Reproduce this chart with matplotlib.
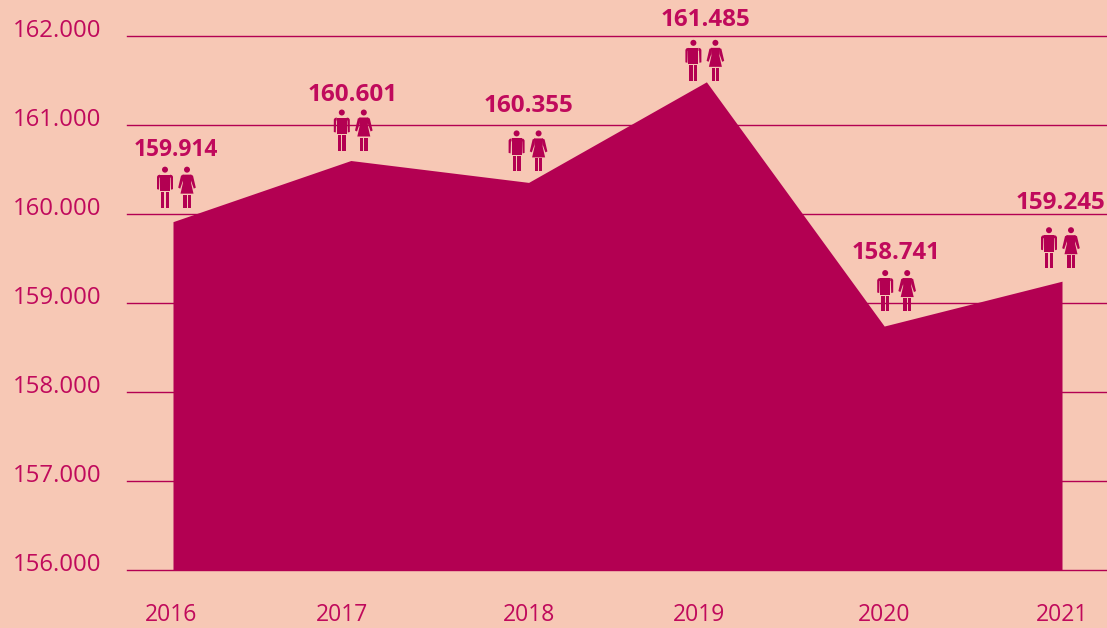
import matplotlib
matplotlib.use('Agg')
import matplotlib.pyplot as plt
from matplotlib.patches import Circle, FancyBboxPatch, Polygon, Rectangle
from matplotlib.transforms import Affine2D, ScaledTranslation

plt.rcParams['font.family'] = ['Open Sans', 'DejaVu Sans']

years = [2016, 2017, 2018, 2019, 2020, 2021]
values = [159914, 160601, 160355, 161485, 158741, 159245]
y_ticks = [156000, 157000, 158000, 159000, 160000, 161000, 162000]

BG = '#f7c8b5'
FILL = '#b30052'
TEXT = '#c00a5c'

# pixel offsets from each data point: icon pair x/y, value label x/height, year label x
icon_dx = [3, 2, -1, -2, 12, -2]
icon_dy = [14, 10, 11, 1, 15, 13]
label_dx = [3, 2, 0, -1, 12, -2]
label_up = [58, 56, 65, 61, 58, 65]
label_size = [16.4, 17.5, 17.5, 17.4, 17.2, 17.5]
year_dx = [-2, -9, 0, -7, 0, 0]


def fmt(v):
    return f'{v:,}'.replace(',', '.')


def draw_man(ax, trans):
    parts = [
        Circle((0, 38), 3.0),
        Polygon([(-5, 33), (5, 33), (5, 16.5), (-5, 16.5)]),
        Polygon([(-5, 33), (-7, 32.5), (-8, 31), (-8, 18.5), (-6, 18), (-5.6, 30), (-5, 30)]),
        Polygon([(5, 33), (7, 32.5), (8, 31), (8, 18.5), (6, 18), (5.6, 30), (5, 30)]),
        Rectangle((-4, 0), 3.4, 15.5),
        Rectangle((0.6, 0), 3.4, 15.5),
    ]
    for p in parts:
        p.set(transform=trans, facecolor=FILL, edgecolor='none', clip_on=False, zorder=3)
        ax.add_patch(p)


def draw_woman(ax, trans):
    parts = [
        Circle((0, 38), 3.0),
        Polygon([(-4.5, 33), (4.5, 33), (4, 25), (6.5, 14), (-6.5, 14), (-4, 25)]),
        Polygon([(-3.5, 33), (-6, 32), (-8.8, 20), (-6.8, 19), (-4, 27)]),
        Polygon([(3.5, 33), (6, 32), (8.8, 20), (6.8, 19), (4, 27)]),
        Rectangle((-3.8, 0), 3.3, 13),
        Rectangle((0.5, 0), 3.3, 13),
    ]
    for p in parts:
        p.set(transform=trans, facecolor=FILL, edgecolor='none', clip_on=False, zorder=3)
        ax.add_patch(p)


fig = plt.figure(figsize=(11.07, 6.28), dpi=100, facecolor=BG)
ax = fig.add_axes([127 / 1107, 1 - 570 / 628, 980 / 1107, 534 / 628], facecolor=BG)

ax.set_xlim(2016 - 46 / 177.8, 2016 + 934 / 177.8)
ax.set_ylim(156000, 162000)

ax.fill_between(years, values, 156000, color=FILL, linewidth=0, zorder=2)

ax.set_yticks(y_ticks, [fmt(v) for v in y_ticks])
ax.set_xticks(years, [str(y) for y in years])
ax.grid(axis='y', color=FILL, linewidth=1.0)
ax.set_axisbelow(True)
for line in ax.get_ygridlines():
    line.set_clip_on(False)
ax.tick_params(axis='both', length=0, labelcolor=TEXT)
ax.tick_params(axis='y', pad=18.5, labelsize=17.3)
ax.tick_params(axis='x', pad=24, labelsize=16.5)
for spine in ax.spines.values():
    spine.set_visible(False)

for lbl in ax.get_yticklabels():
    lbl.set_transform(lbl.get_transform() + Affine2D().translate(0, 8))
for lbl, dx in zip(ax.get_xticklabels(), year_dx):
    lbl.set_transform(lbl.get_transform() + Affine2D().translate(dx, 0))

for i, year in enumerate(years):
    val = values[i]
    anchor = ScaledTranslation(year, val, ax.transData)
    draw_man(ax, Affine2D().translate(icon_dx[i] - 11, icon_dy[i]) + anchor)
    draw_woman(ax, Affine2D().translate(icon_dx[i] + 11, icon_dy[i]) + anchor)
    ax.annotate(fmt(val), (year, val),
                xytext=(label_dx[i] * 0.72, (icon_dy[i] + label_up[i]) * 0.72),
                textcoords='offset points', ha='center', va='center',
                fontsize=label_size[i], fontweight='bold', color=TEXT,
                annotation_clip=False, zorder=4)

plt.savefig('out.png', dpi=100, facecolor=BG)
